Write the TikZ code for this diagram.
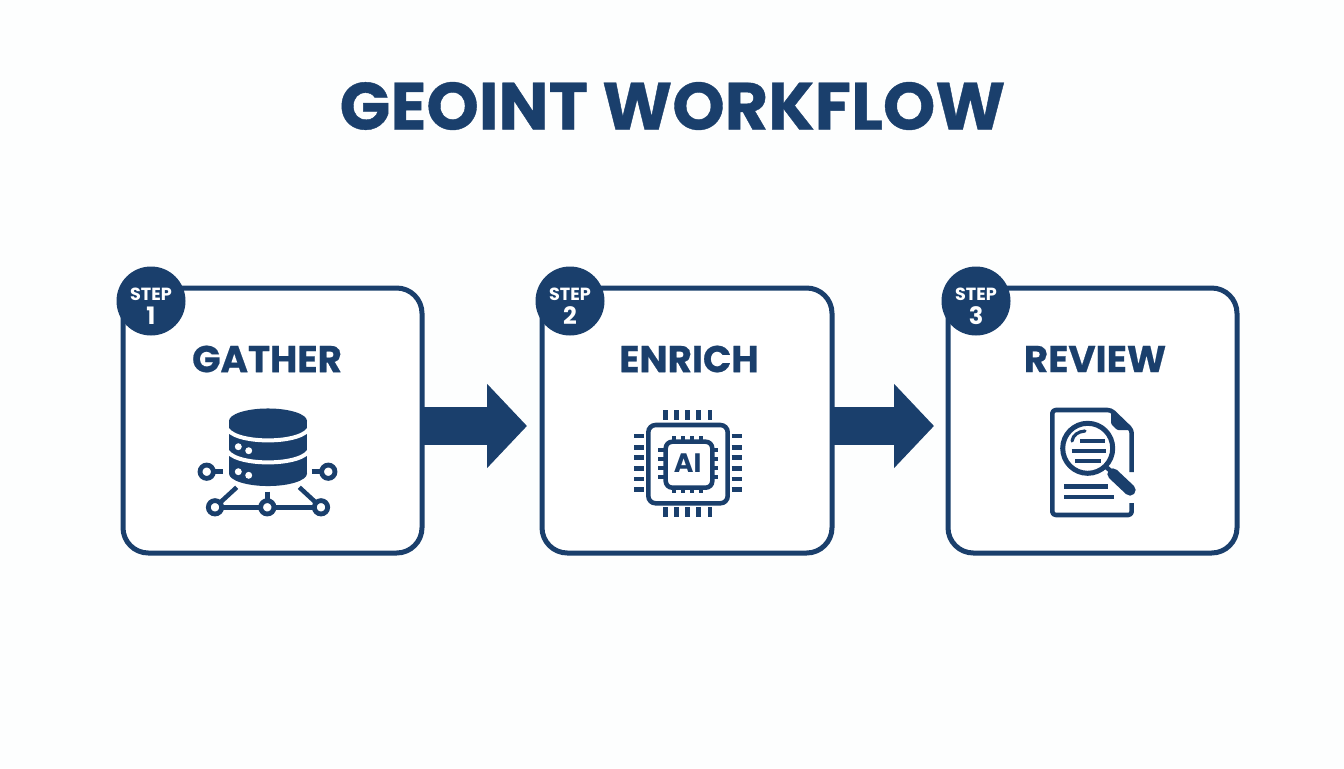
\documentclass[tikz,border=0pt]{standalone}
\usepackage{fontspec}
\setmainfont{Poppins}
\usetikzlibrary{arrows.meta,calc}
\definecolor{navy}{HTML}{1A3F6C}
\definecolor{paper}{HTML}{FDFEFE}
\tikzset{
  stepbox/.style={draw=navy,line width=3.75pt,fill=white,rounded corners=19pt,outer sep=0pt,inner sep=0pt,minimum width=#1,minimum height=198.75pt},
  badge/.style={circle,fill=navy,inner sep=0pt,minimum size=51.75pt},
  badgetop/.style={text=white,font=\fontsize{13.2}{13}\selectfont\bfseries,inner sep=0pt},
  badgenum/.style={text=white,font=\fontsize{18}{18}\selectfont\bfseries,inner sep=0pt},
  heading/.style={text=navy,font=\fontsize{28}{28}\selectfont\bfseries\addfontfeature{FakeBold=0.6},inner sep=0pt},
  flow/.style={draw=navy,line width=28.5pt,-{Triangle[length=30pt,width=61.5pt]}},
  ico/.style={draw=navy,line width=3.4pt},
  ring/.style={draw=navy,line width=3.6pt,fill=white},
  pin/.style={draw=navy,line width=3.4pt},
  ipin/.style={draw=navy,line width=2.8pt},
  thin/.style={draw=navy,line width=3pt}
}
\begin{document}
\begin{tikzpicture}[x=0.75pt,y=-0.75pt]
\useasboundingbox (0,0) rectangle (1344,768);
\fill[paper] (0,0) rectangle (1344,768);
\node[text=navy,font=\fontsize{50}{50}\selectfont\bfseries\addfontfeature{FakeBold=0.6},inner sep=0pt] (title) at (672.5,106) {GEOINT WORKFLOW};
% boxes
\node[stepbox=224.25pt] (box1) at (272.5,420.5) {};
\node[stepbox=217.5pt] (box2) at (687,420.5) {};
\node[stepbox=216.75pt] (box3) at (1092.5,420.5) {};
% arrows
\draw[flow,shorten >=11.25pt] ([yshift=-4.1pt]box1.east) -- ([yshift=-4.1pt]box2.west);
\draw[flow,shorten >=10.5pt] ([yshift=-4.1pt]box2.east) -- ([yshift=-4.1pt]box3.west);
% badges
\node[badge] (b1) at (151,301) {};
\node[badge] (b2) at (570,301) {};
\node[badge] (b3) at (976,301) {};
\node[badgetop] (s1) at (151,294) {STEP};
\node[badgetop] (s2) at (570,294) {STEP};
\node[badgetop] (s3) at (976,294) {STEP};
\node[badgenum] (n1) at (151,315.5) {1};
\node[badgenum] (n2) at (570,315.5) {2};
\node[badgenum] (n3) at (976,315.5) {3};
\node[heading] (h1) at (267,359) {GATHER};
\node[heading] (h2) at (689,359) {ENRICH};
\node[heading] (h3) at (1095,359) {REVIEW};
% database icon
\fill[navy] (268,421) ellipse [x radius=29.25pt,y radius=9.4pt];
\fill[navy] (268,473.5) ellipse [x radius=29.25pt,y radius=9.4pt];
\fill[navy] (229,421) rectangle (307,473.5);
\draw[white,line width=3pt] (226,426) .. controls (229,445.2) and (307,445.2) .. (310,426);
\draw[white,line width=3pt] (226,448) .. controls (229,467.2) and (307,467.2) .. (310,448);
\foreach \p in {(238.3,446.7),(248.7,450.7),(238.3,471.7),(248.7,475.3)} \fill[white] \p circle [radius=2.6pt];
\draw[ico] (223,471.7) -- (206.7,471.7);
\draw[ico] (311.7,471.7) -- (328.3,471.7);
\draw[ico] (215,507.3) -- (321,507.3);
\draw[ico] (236.7,487.3) -- (215,507.3);
\draw[ico] (267.3,491.7) -- (267.3,507.3);
\draw[ico] (299.3,487.3) -- (321,507.3);
\foreach \p in {(206.7,471.7),(328.3,471.7),(215,507.3),(267.3,507.3),(321,507.3)} \draw[ring] \p circle [radius=5pt];
% chip icon
\draw[ico,rounded corners=5.5pt] (648.3,425) rectangle (727.7,503.3);
\draw[ico,rounded corners=5pt] (665.7,441.7) rectangle (712.3,487.7);
\foreach \x in {665.7,676.7,687.3,698.3,710} {
  \draw[pin] (\x,410) -- (\x,420);
  \draw[pin] (\x,507) -- (\x,517);
}
\foreach \y in {436,447.3,457.7,468.3,479,489.3} {
  \draw[pin] (634.3,\y) -- (644.3,\y);
  \draw[pin] (731.7,\y) -- (741.7,\y);
}
\foreach \x in {674.3,683,691.7,701} {
  \draw[ipin] (\x,436) -- (\x,441.7);
  \draw[ipin] (\x,487.7) -- (\x,493);
}
\foreach \y in {450,459,467.7,476.7} {
  \draw[ipin] (658.3,\y) -- (665.7,\y);
  \draw[ipin] (712.3,\y) -- (718,\y);
}
\node[text=navy,font=\fontsize{20}{20}\selectfont\bfseries,inner sep=0pt] (ai) at (687.7,463.5) {AI};
% document icon
\draw[ico,rounded corners=2.5pt,line join=round] (1131.7,472) -- (1131.7,430) -- (1111,410) -- (1052.3,410) -- (1052.3,515) -- (1131.7,515) -- (1131.7,503);
\fill[navy,rounded corners=1pt] (1111,410) -- (1111,424) -- (1117,430) -- (1131.7,430) -- cycle;
\draw[ico] (1064.3,486.7) -- (1108.3,486.7);
\draw[ico] (1064.3,497) -- (1114.3,497);
\draw[ring,line width=3.75pt] (1087.7,448.3) circle [radius=18.75pt];
\draw[ico] (1105.5,466.5) -- (1112,472);
\draw[navy,line width=8.5pt,line cap=round] (1113,474) -- (1130,490);
\draw[thin] (1080,441) -- (1105,441);
\draw[thin] (1071.7,451) -- (1105.7,451);
\draw[thin] (1075,461) -- (1100.7,461);
\draw[navy,line width=2.4pt,line cap=round] (1072,441) .. controls (1073,435) and (1078,431.5) .. (1085,431);
\end{tikzpicture}
\end{document}
